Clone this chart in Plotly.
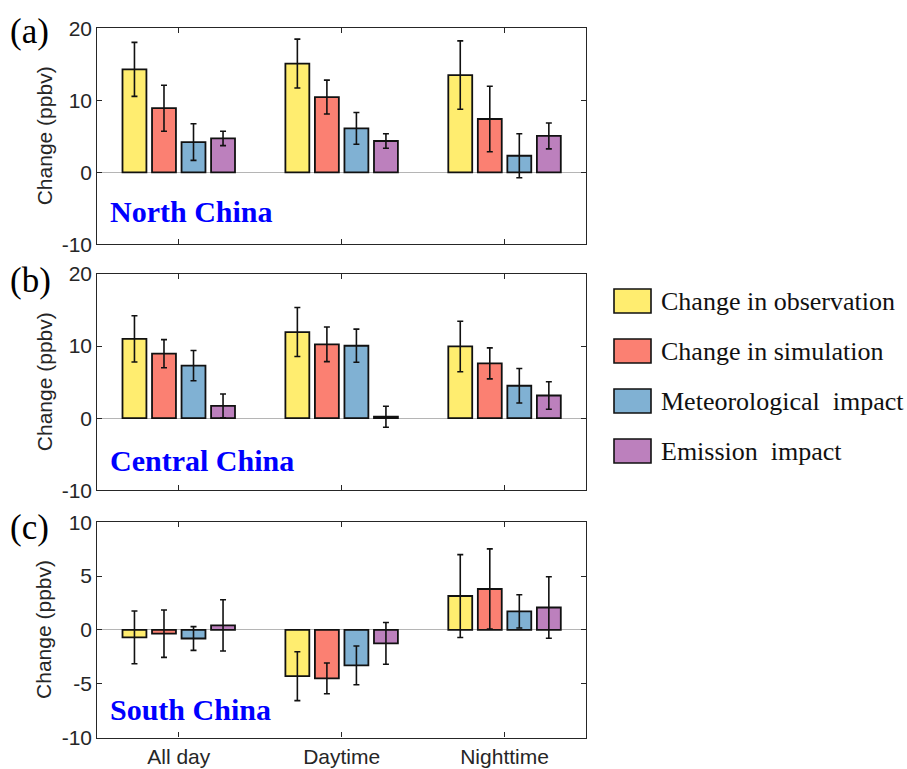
import plotly.graph_objects as go
from plotly.subplots import make_subplots

# ---------------- data ----------------
periods = ["All day", "Daytime", "Nighttime"]
period_pos = [1, 2, 3]
series_names = ["Change in observation", "Change in simulation",
                "Meteorological\u00a0 impact", "Emission\u00a0 impact"]
series_colors = ["#FFED6F", "#FB8072", "#80B1D3", "#BC80BD"]
regions = ["North China", "Central China", "South China"]
panel_tags = ["(a)", "(b)", "(c)"]

# North China (a)
north_obs = [14.3, 15.1, 13.5]
north_obs_err = [3.75, 3.4, 4.75]
north_sim = [8.9, 10.45, 7.4]
north_sim_err = [3.2, 2.35, 4.55]
north_met = [4.2, 6.1, 2.3]
north_met_err = [2.55, 2.2, 3.05]
north_emi = [4.7, 4.35, 5.05]
north_emi_err = [1.0, 1.0, 1.8]

# Central China (b)
central_obs = [11.0, 11.95, 9.95]
central_obs_err = [3.2, 3.4, 3.5]
central_sim = [8.95, 10.25, 7.6]
central_sim_err = [1.95, 2.4, 2.15]
central_met = [7.3, 10.05, 4.5]
central_met_err = [2.1, 2.3, 2.4]
central_emi = [1.7, 0.2, 3.15]
central_emi_err = [1.65, 1.45, 1.9]

# South China (c)
south_obs = [-0.7, -4.3, 3.15]
south_obs_err = [2.45, 2.27, 3.85]
south_sim = [-0.35, -4.5, 3.8]
south_sim_err = [2.2, 1.43, 3.73]
south_met = [-0.8, -3.3, 1.72]
south_met_err = [1.1, 1.8, 1.55]
south_emi = [0.42, -1.25, 2.08]
south_emi_err = [2.38, 1.94, 2.86]

y_ticks_ab = [-10, 0, 10, 20]
y_ticklabels_ab = ["-10", "0", "10", "20"]
y_ticks_c = [-10, -5, 0, 5, 10]
y_ticklabels_c = ["-10", "-5", "0", "5", "10"]

panel_values = [
    [north_obs, north_sim, north_met, north_emi],
    [central_obs, central_sim, central_met, central_emi],
    [south_obs, south_sim, south_met, south_emi],
]
panel_errors = [
    [north_obs_err, north_sim_err, north_met_err, north_emi_err],
    [central_obs_err, central_sim_err, central_met_err, central_emi_err],
    [south_obs_err, south_sim_err, south_met_err, south_emi_err],
]
y_ranges = [[-10, 20], [-10, 20], [-10, 10]]
y_ticks = [y_ticks_ab, y_ticks_ab, y_ticks_c]
y_ticklabels = [y_ticklabels_ab, y_ticklabels_ab, y_ticklabels_c]

# ---------------- layout geometry (pixels of a 907x769 page) ----------------
W, H = 907, 769
x_left_px, x_right_px = 97.3, 586.0
panel_px = [(28.3, 244.3), (274.0, 490.3), (522.3, 737.5)]

AX_COLOR = "#262626"
SANS = "Liberation Sans, Arial, sans-serif"
SERIF = "Liberation Serif, Times New Roman, serif"

fig = make_subplots(rows=3, cols=1)

for p in range(3):
    for s in range(4):
        fig.add_trace(
            go.Bar(
                x=period_pos,
                y=panel_values[p][s],
                name=series_names[s],
                marker=dict(color=series_colors[s],
                            line=dict(color="#111111", width=1.8)),
                error_y=dict(type="data", array=panel_errors[p][s],
                             visible=True, color="#111111",
                             thickness=1.6, width=3),
                showlegend=False,
            ),
            row=p + 1, col=1,
        )

x_dom = [x_left_px / W, x_right_px / W]
for p in range(3):
    top, bot = panel_px[p]
    idx = "" if p == 0 else str(p + 1)
    fig.layout["xaxis" + idx].update(
        domain=x_dom, range=[0.5, 3.5], tickvals=period_pos,
        ticktext=periods, showticklabels=(p == 2), automargin=False,
        ticks="inside", ticklen=5, tickcolor=AX_COLOR, mirror="ticks",
        showline=True, linecolor=AX_COLOR, linewidth=1.2,
        showgrid=False, zeroline=False, ticklabelstandoff=0,
        tickfont=dict(family=SANS, size=21, color=AX_COLOR),
    )
    fig.layout["yaxis" + idx].update(
        domain=[1 - bot / H, 1 - top / H], range=y_ranges[p],
        tickvals=y_ticks[p], ticktext=y_ticklabels[p], automargin=False,
        ticks="inside", ticklen=5, tickcolor=AX_COLOR,
        mirror="ticks", showline=True, linecolor=AX_COLOR, linewidth=1.2,
        showgrid=False, zeroline=True, zerolinecolor="#b5b5b5",
        zerolinewidth=1.2,
        tickfont=dict(family=SANS, size=21, color=AX_COLOR),
    )
    ymid = 1 - (top + bot) / 2 / H
    # y-axis title
    fig.add_annotation(
        text="Change (ppbv)", xref="paper", yref="paper",
        x=44 / W, y=ymid, textangle=-90, showarrow=False,
        xanchor="center", yanchor="middle",
        font=dict(family=SANS, size=21, color=AX_COLOR),
    )
    # panel tag
    tag_y = [top + 3, top + 6, top + 5][p]
    fig.add_annotation(
        text=panel_tags[p], xref="paper", yref="paper",
        x=8 / W, y=1 - tag_y / H, showarrow=False,
        xanchor="left", yanchor="middle",
        font=dict(family=SERIF, size=35, color="#000000"),
    )
    # region label
    xr = "x domain" if p == 0 else "x%d domain" % (p + 1)
    yr = "y domain" if p == 0 else "y%d domain" % (p + 1)
    label_y = [0.15, 0.14, 0.132][p]
    fig.add_annotation(
        text="<b>%s</b>" % regions[p], xref=xr, yref=yr,
        x=0.022, y=label_y, showarrow=False,
        xanchor="left", yanchor="middle",
        font=dict(family=SERIF, size=30, color="#0000FF"),
    )

# manual legend (large swatches)
legend_rows_px = [301, 351, 401, 451]
for s in range(4):
    yc = legend_rows_px[s]
    fig.add_shape(
        type="rect", xref="paper", yref="paper",
        x0=614 / W, x1=651 / W, y0=1 - (yc + 12) / H, y1=1 - (yc - 12) / H,
        fillcolor=series_colors[s], line=dict(color="#111111", width=1.6),
    )
    fig.add_annotation(
        text=series_names[s], xref="paper", yref="paper",
        x=659 / W, y=1 - yc / H, showarrow=False,
        xanchor="left", yanchor="middle",
        font=dict(family=SERIF, size=26, color="#111111"),
    )

fig.update_layout(
    width=W, height=H, margin=dict(l=0, r=0, t=0, b=0, pad=0),
    paper_bgcolor="white", plot_bgcolor="white",
    barmode="group", bargap=0.275, bargroupgap=0.19,
    showlegend=False,
)

fig.write_html("out.html")
